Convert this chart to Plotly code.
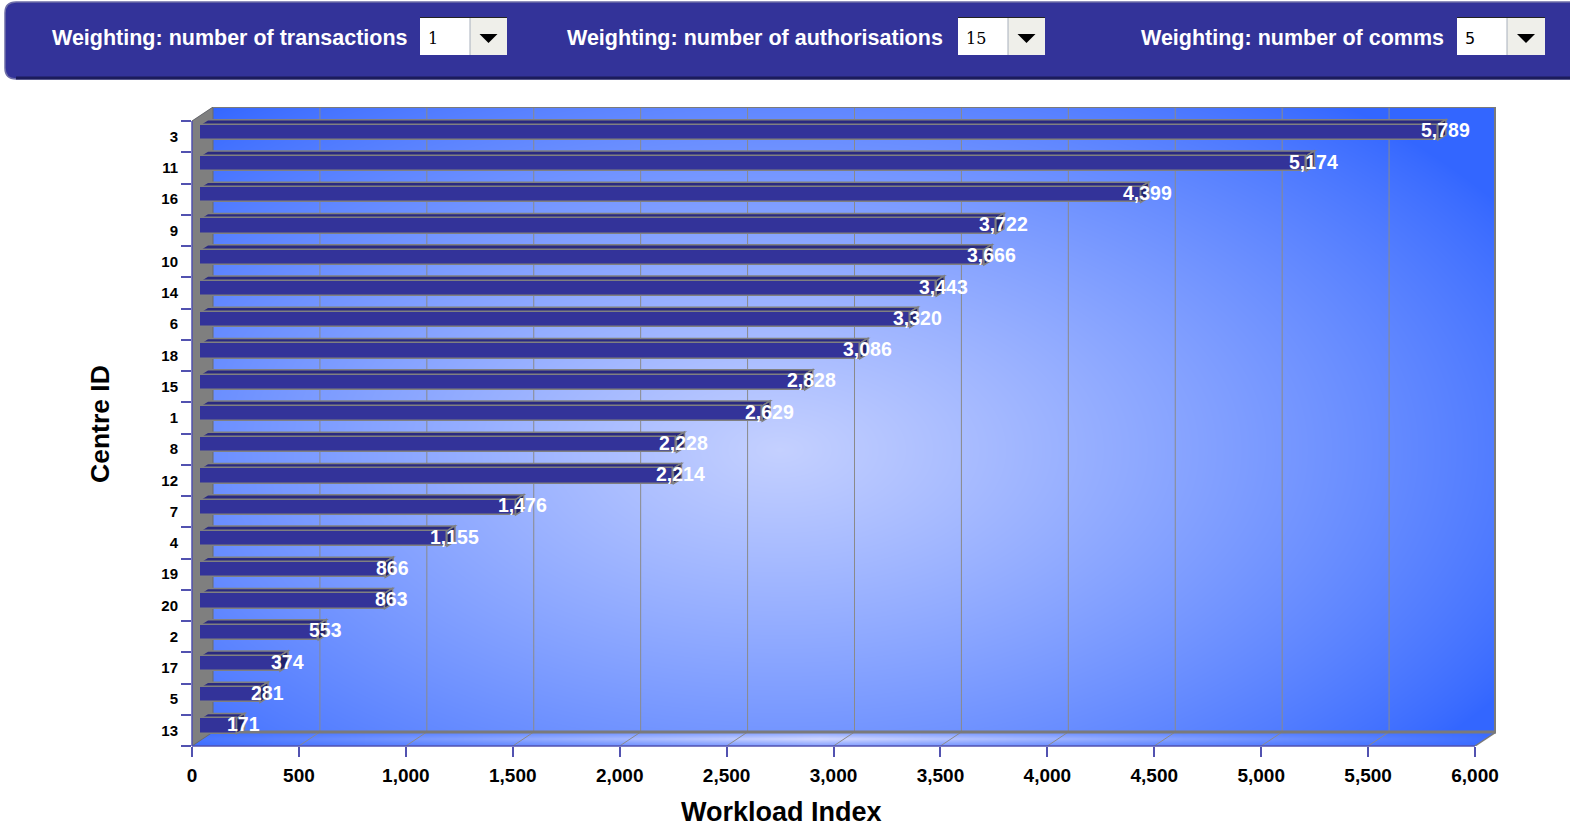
import base64
import struct
import zlib

import numpy as np
import plotly.graph_objects as go

# ---------------- data ----------------
categories = ["3", "11", "16", "9", "10", "14", "6", "18", "15", "1",
              "8", "12", "7", "4", "19", "20", "2", "17", "5", "13"]
values = [5789, 5174, 4399, 3722, 3666, 3443, 3320, 3086, 2828, 2629,
          2228, 2214, 1476, 1155, 866, 863, 553, 374, 281, 171]
x_tick_values = [0, 500, 1000, 1500, 2000, 2500, 3000, 3500, 4000, 4500, 5000, 5500, 6000]
x_title = "Workload Index"
y_title = "Centre ID"
controls = [("Weighting: number of transactions", "1"),
            ("Weighting: number of authorisations", "15"),
            ("Weighting: number of comms", "5")]

# ---------------- geometry (styling) ----------------
W, H = 1570, 830
PL, PR_FRONT, PT_FRONT, PB = 192, 1475, 121, 746
WALL_DX, WALL_DY = 21, 14
PLOT_R = PR_FRONT + WALL_DX          # 1496
PLOT_T = PT_FRONT - WALL_DY          # 107
XMAX = 6000
n = len(categories)
kx = (PR_FRONT - PL) / XMAX          # px per data unit
ky = (PB - PT_FRONT) / n             # px per category
dxw = WALL_DX / kx
dyw = WALL_DY / ky
bar_dx = 8 / kx
bar_dy = 4.3 / ky
depth_dx = 8 / kx
depth_dy = 5 / ky
bar_w = 0.49

FONT = "Liberation Sans, Arial, Helvetica, sans-serif"
AXIS_BLUE = "#5252b0"
GRAY = "#808080"

pos = np.array([n - 1 - i for i in range(n)], dtype=float)


def PX(px):
    return (px - PL) / (PLOT_R - PL)


def PY(py):
    return (PB - py) / (PB - PLOT_T)


# ---------------- gradient background image ----------------
def png_uri(rgb):
    h, w, _ = rgb.shape
    a = rgb.astype(np.int16)
    d = np.empty_like(a)
    d[0] = a[0]
    d[1:] = a[1:] - a[:-1]
    d = (d % 256).astype(np.uint8)
    raw = b"".join(b"\x02" + d[i].tobytes() for i in range(h))

    def chunk(t, data):
        return (struct.pack(">I", len(data)) + t + data +
                struct.pack(">I", zlib.crc32(t + data) & 0xffffffff))

    ihdr = struct.pack(">IIBBBBB", w, h, 8, 2, 0, 0, 0)
    png = (b"\x89PNG\r\n\x1a\n" + chunk(b"IHDR", ihdr) +
           chunk(b"IDAT", zlib.compress(raw, 9)) + chunk(b"IEND", b""))
    return "data:image/png;base64," + base64.b64encode(png).decode()


IW, IH = PLOT_R - PL, PB - PLOT_T
gx = PL + np.arange(IW) + 0.5
gy = PLOT_T + np.arange(IH) + 0.5
GX, GY = np.meshgrid(gx, gy)
edge = np.array([51, 102, 255], float)
center = np.array([196, 208, 255], float)
r = np.sqrt(((GX - 780) / 850) ** 2 + ((GY - 450) / 460) ** 2)
f = np.clip(1 - r, 0, 1) ** 0.85
img = edge + (center - edge) * f[..., None]
# floor
floor_mask = GY > (PB - WALL_DY)
fx = np.clip(1 - np.abs(GX - 820) / 720, 0, 1)
t = (GY - (PB - WALL_DY)) / WALL_DY
band = 1 - np.abs(t - 0.5) * 2
floor_light = np.array([210, 216, 255], float)
ff = fx * (0.5 + 0.5 * band)
floor_col = edge + (floor_light - edge) * ff[..., None]
img[floor_mask] = floor_col[floor_mask]
# white corners
white = np.array([255, 255, 255], float)
tl = (GX < PL + WALL_DX) & (GY < PT_FRONT - (GX - PL) * WALL_DY / WALL_DX)
br = (GX > PR_FRONT) & (GY > (PB - WALL_DY) + (PLOT_R - GX) * WALL_DY / WALL_DX)
img[tl] = white
img[br] = white
img = np.clip(np.round(img), 0, 255).astype(np.uint8)
bg_uri = png_uri(img)

# ---------------- figure ----------------
fig = go.Figure()

fig.add_trace(go.Bar(
    orientation="h",
    y=pos + bar_dy,
    x=values,
    base=bar_dx,
    width=bar_w,
    marker=dict(color="#333399", line=dict(color=GRAY, width=1.5)),
    hoverinfo="skip",
    showlegend=False,
))

shapes = []
# left wall
shapes.append(dict(type="path", xref="x", yref="y", layer="below",
                   path=f"M 0,{-0.5} L 0,{n - 0.5} L {dxw},{n - 0.5 + dyw} L {dxw},{-0.5 + dyw} Z",
                   fillcolor="#7f7f7f", line=dict(color="#6a6a6a", width=1)))
# back-wall gridlines and floor diagonals
for v in x_tick_values[1:-1]:
    shapes.append(dict(type="line", xref="x", yref="y", layer="below",
                       x0=v + dxw, x1=v + dxw, y0=-0.5 + dyw, y1=n - 0.5 + dyw,
                       line=dict(color="#8a8a8a", width=1)))
for v in x_tick_values[1:-1]:
    shapes.append(dict(type="line", xref="x", yref="y", layer="below",
                       x0=v, x1=v + dxw, y0=-0.5, y1=-0.5 + dyw,
                       line=dict(color="#8a8a8a", width=1)))
# back wall borders
shapes.append(dict(type="line", xref="x", yref="y", layer="below",
                   x0=dxw, x1=XMAX + dxw, y0=-0.5 + dyw, y1=-0.5 + dyw,
                   line=dict(color="#7a7a7a", width=3)))
shapes.append(dict(type="line", xref="x", yref="y", layer="below",
                   x0=XMAX + dxw, x1=XMAX + dxw, y0=-0.5 + dyw, y1=n - 0.5 + dyw,
                   line=dict(color="#7a7a7a", width=4)))
shapes.append(dict(type="line", xref="x", yref="y", layer="below",
                   x0=dxw, x1=XMAX + dxw, y0=n - 0.5 + dyw, y1=n - 0.5 + dyw,
                   line=dict(color="#7a7a7a", width=2)))
shapes.append(dict(type="line", xref="x", yref="y", layer="below",
                   x0=XMAX, x1=XMAX + dxw, y0=-0.5, y1=-0.5 + dyw,
                   line=dict(color="#7a7a7a", width=1.5)))

# 3D faces of bars
for p, v in zip(pos, values):
    yc = p + bar_dy
    yt, yb = yc + bar_w / 2, yc - bar_w / 2
    x0, x1 = bar_dx, bar_dx + v
    shapes.append(dict(type="path", xref="x", yref="y", layer="below",
                       path=(f"M {x0},{yt} L {x0 + depth_dx},{yt + depth_dy} "
                             f"L {x1 + depth_dx},{yt + depth_dy} L {x1},{yt} Z"),
                       fillcolor="#2a2a80", line=dict(color=GRAY, width=1.5)))
    shapes.append(dict(type="path", xref="x", yref="y", layer="below",
                       path=(f"M {x1},{yt} L {x1 + depth_dx},{yt + depth_dy} "
                             f"L {x1 + depth_dx},{yb + depth_dy} L {x1},{yb} Z"),
                       fillcolor="#22226a", line=dict(color=GRAY, width=1.5)))

# front axis lines (paper, above)
shapes.append(dict(type="line", xref="paper", yref="paper", layer="above",
                   x0=PX(PL), x1=PX(PR_FRONT), y0=PY(PB), y1=PY(PB),
                   line=dict(color=AXIS_BLUE, width=1.5)))
shapes.append(dict(type="line", xref="paper", yref="paper", layer="above",
                   x0=PX(PL), x1=PX(PL), y0=PY(PB), y1=PY(PT_FRONT),
                   line=dict(color=AXIS_BLUE, width=1.5)))

# ---------------- header ----------------
hx0, hx1, hy0, hy1, rad = 5, 1580, 2, 79, 11
shapes.append(dict(type="path", xref="paper", yref="paper", layer="above",
                   path=(f"M {PX(hx0)},{PY(hy0 + rad)} Q {PX(hx0)},{PY(hy0)} {PX(hx0 + rad)},{PY(hy0)} "
                         f"L {PX(hx1)},{PY(hy0)} L {PX(hx1)},{PY(hy1)} L {PX(hx0 + rad)},{PY(hy1)} "
                         f"Q {PX(hx0)},{PY(hy1)} {PX(hx0)},{PY(hy1 - rad)} Z"),
                   fillcolor="#333399", line=dict(color="#6e6ea8", width=1.5)))
shapes.append(dict(type="line", xref="paper", yref="paper", layer="above",
                   x0=PX(hx0 + rad), x1=PX(hx1), y0=PY(hy1 - 1), y1=PY(hy1 - 1),
                   line=dict(color="#1c1c5c", width=3)))

annotations = []
box_specs = [(408, 420, 470, 507), (943, 958, 1008, 1045), (1444, 1457, 1507, 1545)]
for (label, val), (lab_r, bx0, bx1, bx2) in zip(controls, box_specs):
    annotations.append(dict(xref="paper", yref="paper", x=PX(lab_r + 1.5), y=PY(38.5),
                            xanchor="right", yanchor="middle", showarrow=False, text=label,
                            font=dict(family=FONT, size=21.5, color="white", weight="bold")))
    shapes.append(dict(type="rect", xref="paper", yref="paper", layer="above",
                       x0=PX(bx0), x1=PX(bx1), y0=PY(17), y1=PY(55),
                       fillcolor="white", line=dict(width=0)))
    shapes.append(dict(type="rect", xref="paper", yref="paper", layer="above",
                       x0=PX(bx1), x1=PX(bx2), y0=PY(17), y1=PY(55),
                       fillcolor="#efefea", line=dict(width=0)))
    shapes.append(dict(type="line", xref="paper", yref="paper", layer="above",
                       x0=PX(bx1), x1=PX(bx1), y0=PY(18), y1=PY(55),
                       line=dict(color="#a8b0bc", width=1)))
    shapes.append(dict(type="line", xref="paper", yref="paper", layer="above",
                       x0=PX(bx0), x1=PX(bx2), y0=PY(17.5), y1=PY(17.5),
                       line=dict(color="#222222", width=1)))
    cx = (bx1 + bx2) / 2
    shapes.append(dict(type="path", xref="paper", yref="paper", layer="above",
                       path=f"M {PX(cx - 9)},{PY(34)} L {PX(cx + 9)},{PY(34)} L {PX(cx)},{PY(43)} Z",
                       fillcolor="black", line=dict(width=0)))
    annotations.append(dict(xref="paper", yref="paper", x=PX(bx0 + 6), y=PY(38),
                            xanchor="left", yanchor="middle", showarrow=False, text=val,
                            font=dict(family="DejaVu Serif, serif" if val != "5" else "DejaVu Sans, sans-serif",
                                      size=16, color="black")))

# value labels
for p, v in zip(pos, values):
    annotations.append(dict(xref="x", yref="y", x=bar_dx + v + depth_dx * 0.9, y=p + bar_dy,
                            xanchor="center", yanchor="middle", yshift=2, showarrow=False,
                            text=f"{v:,}",
                            font=dict(family=FONT, size=19.5, color="white", weight="bold")))

# axis titles
annotations.append(dict(xref="paper", yref="paper", x=PX(781), y=PY(812),
                        xanchor="center", yanchor="middle", showarrow=False, text=x_title,
                        font=dict(family=FONT, size=27, color="black", weight="bold")))
annotations.append(dict(xref="paper", yref="paper", x=PX(100), y=PY(424),
                        xanchor="center", yanchor="middle", showarrow=False, text=y_title,
                        textangle=-90,
                        font=dict(family=FONT, size=26.5, color="black", weight="bold")))

fig.update_layout(
    width=W, height=H,
    margin=dict(l=PL, r=W - PLOT_R, t=PLOT_T, b=H - PB, pad=0),
    paper_bgcolor="white",
    plot_bgcolor="rgba(0,0,0,0)",
    showlegend=False,
    bargap=0,
    shapes=shapes,
    annotations=annotations,
    images=[dict(source=bg_uri, xref="paper", yref="paper", x=0, y=1,
                 sizex=1, sizey=1, xanchor="left", yanchor="top",
                 sizing="stretch", layer="below")],
    xaxis=dict(range=[0, XMAX + dxw], showgrid=False, zeroline=False, showline=False,
               tickmode="array", tickvals=x_tick_values,
               ticktext=[f"{v:,}" for v in x_tick_values],
               ticks="outside", ticklen=10, tickwidth=1.5, tickcolor=AXIS_BLUE,
               ticklabelstandoff=2,
               tickfont=dict(family=FONT, size=19, color="black", weight="bold"),
               fixedrange=True),
    yaxis=dict(range=[-0.5, n - 0.5 + dyw], showgrid=False, zeroline=False, showline=False,
               tickmode="array", tickvals=list(pos), ticktext=categories,
               ticks="outside", ticklen=10, tickcolor="rgba(0,0,0,0)",
               minor=dict(ticks="outside", ticklen=10, tickwidth=1.5, tickcolor=AXIS_BLUE,
                          tick0=0.5, dtick=1, showgrid=False),
               tickfont=dict(family=FONT, size=15, color="black", weight="bold"),
               fixedrange=True),
)

fig.write_html("out.html")
